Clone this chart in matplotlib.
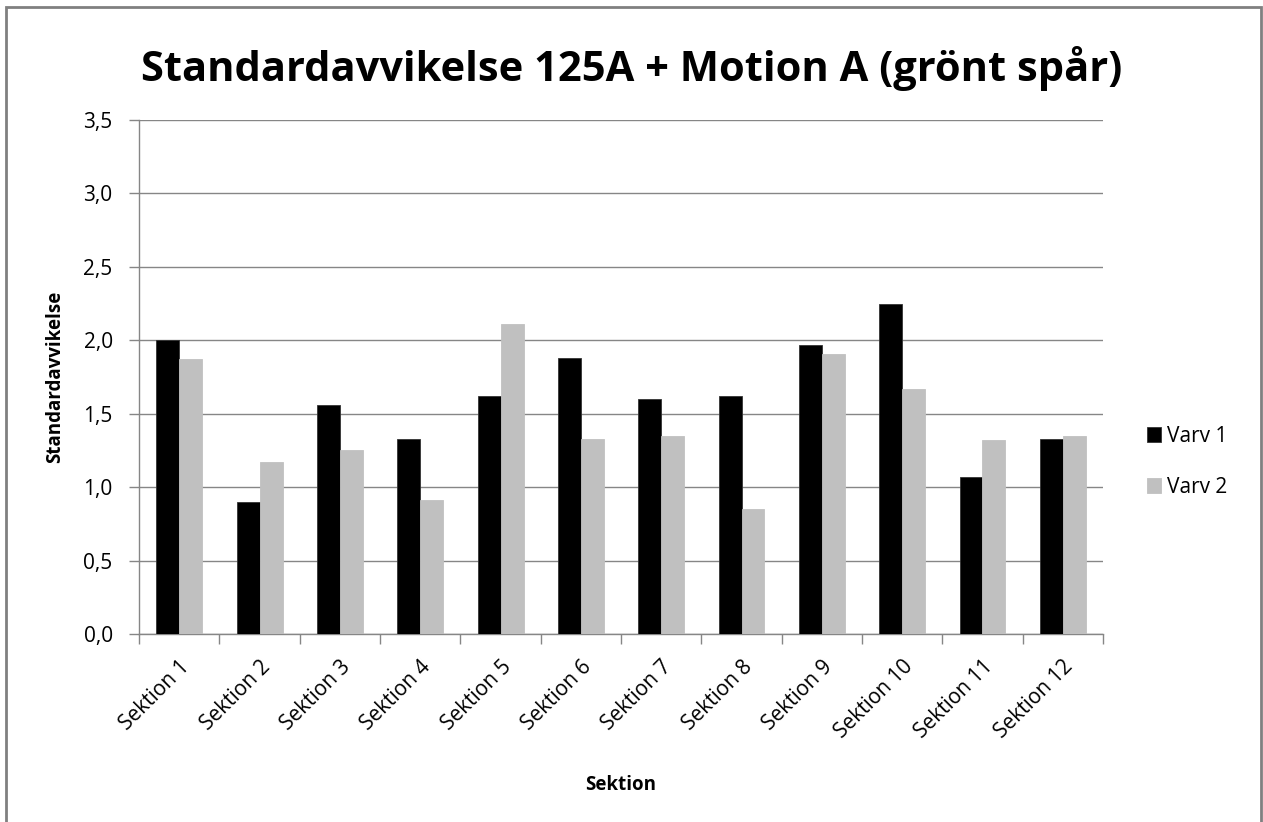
import matplotlib.pyplot as plt
import numpy as np
from matplotlib.patches import Rectangle

# Data
sektioner = ['Sektion 1', 'Sektion 2', 'Sektion 3', 'Sektion 4', 'Sektion 5', 'Sektion 6',
             'Sektion 7', 'Sektion 8', 'Sektion 9', 'Sektion 10', 'Sektion 11', 'Sektion 12']
varv1 = [2.00, 0.90, 1.56, 1.33, 1.62, 1.88, 1.60, 1.62, 1.97, 2.25, 1.07, 1.33]
varv2 = [1.87, 1.17, 1.25, 0.91, 2.11, 1.33, 1.35, 0.85, 1.91, 1.67, 1.32, 1.35]
yticks = [0.0, 0.5, 1.0, 1.5, 2.0, 2.5, 3.0, 3.5]

plt.rcParams['font.family'] = ['Open Sans', 'DejaVu Sans']

fig = plt.figure(figsize=(12.63, 8.22), dpi=100)
ax = fig.add_axes([0.1101, 0.2287, 0.7632, 0.6253])

x = np.arange(len(sektioner))
w = 0.286
ax.bar(x - w / 2, varv1, w, color='black', edgecolor='#333333', linewidth=0.6, label='Varv 1', zorder=3)
ax.bar(x + w / 2, varv2, w, color='#c0c0c0', edgecolor='#c0c0c0', linewidth=0.6, label='Varv 2', zorder=3)

ax.set_xlim(-0.5, len(sektioner) - 0.5)
ax.set_ylim(0, 3.5)
ax.set_yticks(yticks)
ax.set_yticklabels([f'{v:.1f}'.replace('.', ',') for v in yticks])
ax.yaxis.grid(True, color='#868686', linewidth=1.0, zorder=0)

# labels at category centres, tick marks at boundaries
ax.set_xticks(x)
ax.set_xticklabels(sektioner, rotation=45, ha='right', rotation_mode='anchor')
ax.set_xticks(np.arange(-0.5, len(sektioner)), minor=True)
ax.tick_params(axis='x', which='major', length=0, pad=16, labelsize=15)
ax.tick_params(axis='x', which='minor', length=7, color='#868686', width=1)
ax.tick_params(axis='y', length=7, color='#868686', width=1, pad=12, labelsize=15)

for s in ['top', 'right']:
    ax.spines[s].set_visible(False)
for s in ['left', 'bottom']:
    ax.spines[s].set_color('#868686')
    ax.spines[s].set_linewidth(1.0)

ax.set_ylabel('Standardavvikelse', fontsize=13.5, fontweight='bold', labelpad=13)
ax.set_xlabel('Sektion', fontsize=13.5, fontweight='bold', labelpad=23)
fig.text(0.5, 0.917, 'Standardavvikelse 125A + Motion A (grönt spår)',
         ha='center', va='center', fontsize=30, fontweight='bold')

fig.legend(loc='center left', bbox_to_anchor=(0.893, 0.438), frameon=False,
           fontsize=15, handlelength=0.7, handleheight=0.7, handletextpad=0.3, labelspacing=1.45)

# chart frame
fig.add_artist(Rectangle((6 / 1263, -0.1), 1255 / 1263, 1.1 - 7 / 822, transform=fig.transFigure,
                         fill=False, edgecolor='#808080', linewidth=2))

fig.savefig('out.png', dpi=100)
